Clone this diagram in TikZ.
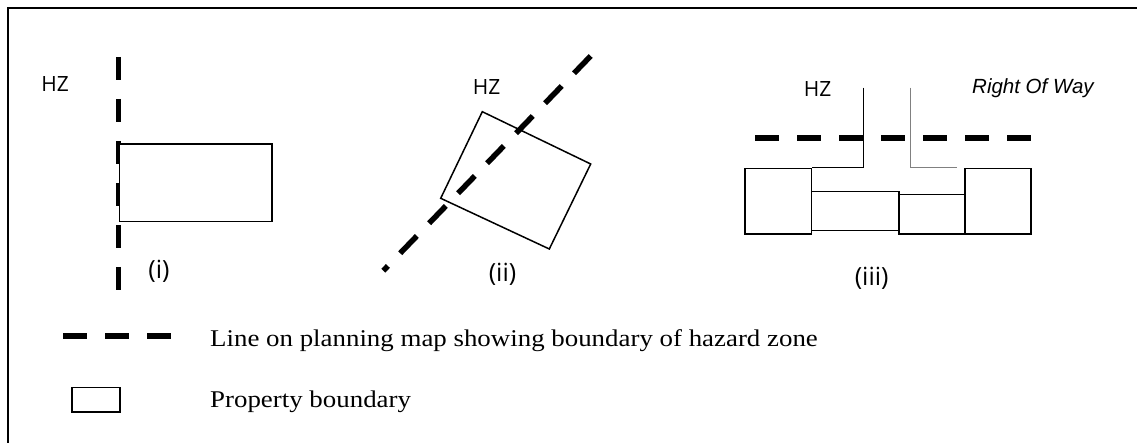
\documentclass[tikz,border=0pt]{standalone}
\usepackage{fontspec}
\setmainfont{Liberation Serif}[FakeStretch=1.12]
\newfontfamily\osans{Open Sans}
\newfontfamily\arialf{Liberation Sans}
\begin{document}
\begin{tikzpicture}[x=1pt,y=-1pt,
  hzline/.style={line width=5.5pt, dash pattern=on 23.5pt off 18.5pt},
  prop/.style={draw, line width=1.5pt, fill=white, inner sep=0pt, anchor=north west},
  thinline/.style={line width=1pt},
  lab/.style={font=\osans\fontsize{25}{25}\selectfont, inner sep=0pt},
  hz/.style={font=\osans\fontsize{21}{21}\selectfont, inner sep=0pt},
  leg/.style={font=\fontsize{24}{24}\selectfont, inner sep=0pt, anchor=base west}]
\useasboundingbox (0,0) rectangle (1137,443);
% frame
\coordinate (fbl) at (7.7,443);
\coordinate (ftl) at (7.7,7.7);
\coordinate (ftr) at (1137,7.7);
\draw[line width=2pt] (fbl) -- (ftl) -- (ftr);

% (i)
\node[hz] (hz1) at (55,83.7) {HZ};
\coordinate (d1a) at (118.5,57);
\coordinate (d1b) at (118.5,290);
\draw[hzline] (d1a) -- (d1b);
\node[prop, minimum width=152.2pt, minimum height=77.7pt] (r1) at (118.8,143.3) {};
\node[lab] (l1) at (159,271.5) {(i)};

% (ii)
\node[hz] (hz2) at (486.5,87.5) {HZ};
\coordinate (t2) at (482.3,111.7);
\coordinate (rr2) at (590.7,164);
\coordinate (b2) at (549.3,249);
\coordinate (lf2) at (440.7,198.3);
\draw[line width=1.5pt, line join=miter] (t2) -- (rr2) -- (b2) -- (lf2) -- cycle;
\coordinate (d2a) at (590.7,56);
\coordinate (d2b) at (383.3,270.7);
\draw[line width=5.5pt, dash pattern=on 24pt off 17.7pt] (d2a) -- (d2b);
\node[lab] (l2) at (502.5,274) {(ii)};

% (iii)
\node[hz] (hz3) at (817.5,89.2) {HZ};
\node[font=\arialf\itshape\fontsize{20.5}{20.5}\selectfont, inner sep=0pt, anchor=base west] (row) at (972,93.5) {Right Of Way};
\coordinate (d3a) at (755,138.3);
\coordinate (d3b) at (1030.7,138.3);
\draw[line width=6pt, dash pattern=on 24pt off 18pt] (d3a) -- (d3b);
\node[prop, minimum width=66.4pt, minimum height=65.6pt] (bL) at (744.3,167.7) {};
\node[prop, minimum width=87.6pt, minimum height=39.3pt] (bA) at (810.7,190.7) {};
\node[prop, minimum width=66pt, minimum height=39.3pt] (bB) at (898.3,194) {};
\node[prop, minimum width=65.7pt, minimum height=65.6pt] (bR) at (964.3,167.7) {};
\coordinate (v1t) at (863.3,87.7);
\coordinate (v1b) at (863.3,167.7);
\draw[thinline] (v1t) -- (v1b) -- (bL.north east);
\coordinate (v2t) at (910.7,87.7);
\coordinate (v2b) at (910.7,167.7);
\coordinate (v2e) at (956.7,167.7);
\draw[thinline, gray] (v2t) -- (v2b) -- (v2e);
\node[lab] (l3) at (871.7,278) {(iii)};

% legend
\coordinate (lga) at (63,336.3);
\coordinate (lgb) at (171,336.3);
\draw[line width=6pt, dash pattern=on 24pt off 18pt] (lga) -- (lgb);
\node[leg] (t1) at (210,346) {Line on planning map showing boundary of hazard zone};
\node[prop, minimum width=48pt, minimum height=24.5pt] (lbox) at (71,386.7) {};
\node[leg] (t2) at (210,407) {Property boundary};
\end{tikzpicture}
\end{document}
